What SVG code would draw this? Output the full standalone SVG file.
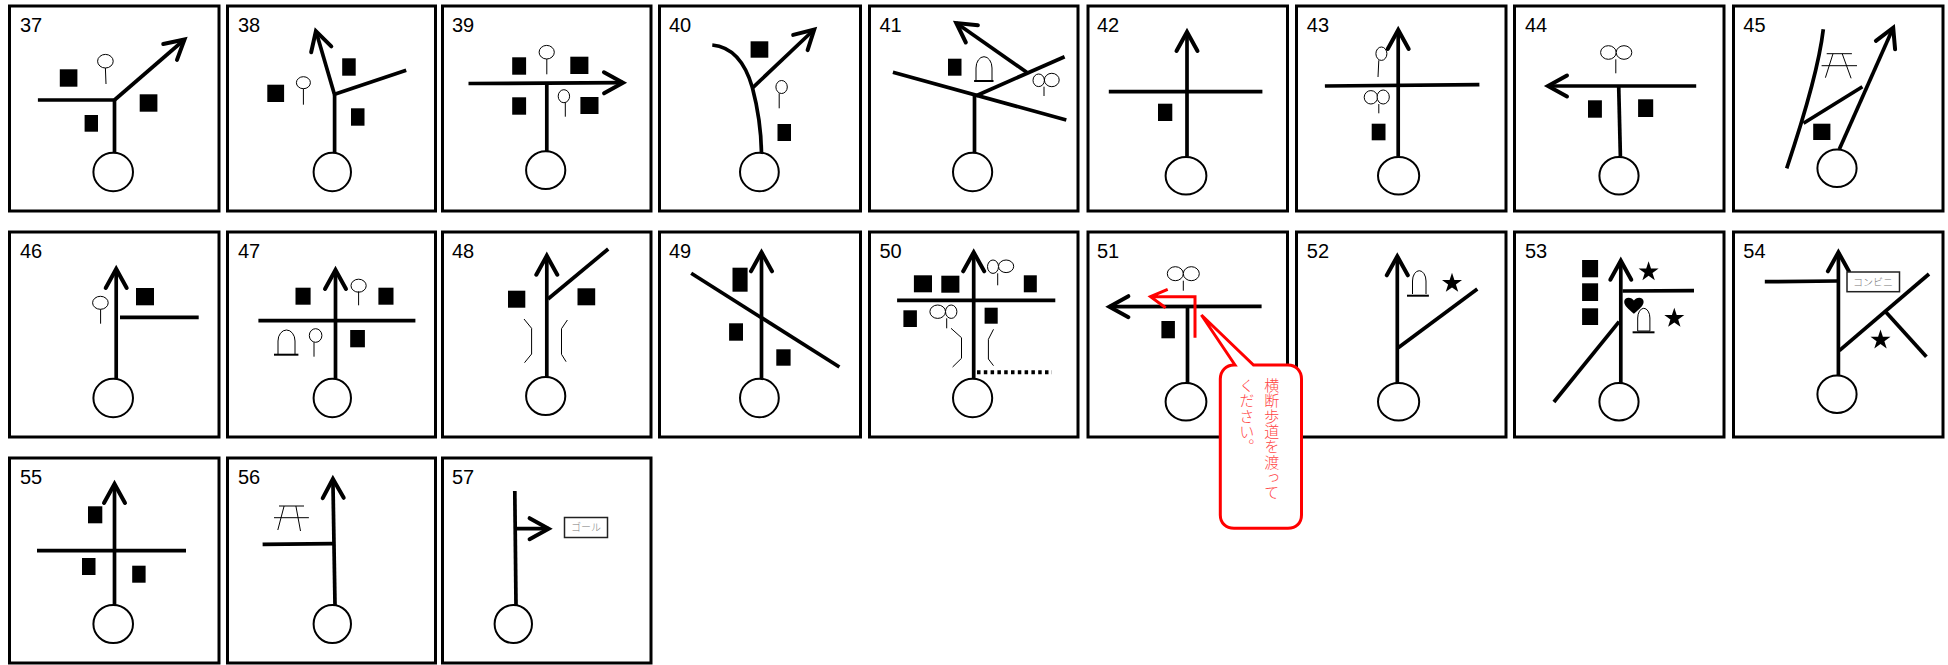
<svg xmlns="http://www.w3.org/2000/svg" xmlns:xlink="http://www.w3.org/1999/xlink" width="1948" height="665" viewBox="0 0 1948 665">
<style>
.f{fill:#fff;stroke:#000;stroke-width:3}
.n{font-family:"Liberation Sans",Arial,sans-serif;font-size:20px;fill:#000}
.r{fill:none;stroke:#000;stroke-width:3.7}
.a{marker-end:url(#ah)}
.c{fill:#fff;stroke:#000;stroke-width:2}
.t{fill:#fff;stroke:#000;stroke-width:1}
.l{fill:none;stroke:#000;stroke-width:1}
.b{fill:#000}
.k{fill:none;stroke:#000;stroke-width:2}
.g{font-family:"Noto Sans CJK JP",sans-serif;font-size:10px;font-weight:300;fill:#777;text-anchor:middle}
.s{fill:#fff;stroke:#222;stroke-width:1.5}
.v{font-family:"Noto Sans CJK JP",sans-serif;font-size:15px;font-weight:300;fill:#f44;writing-mode:vertical-rl;letter-spacing:.3px}
</style>
<defs>
<marker id="ah" markerUnits="userSpaceOnUse" markerWidth="32" markerHeight="32" viewBox="-26 -16 32 32" refX="0" refY="0" orient="auto">
<path d="M-19-10.5L0 0L-19 10.5" fill="none" stroke="#000" stroke-width="4" stroke-linecap="round"/>
</marker>
<polygon id="star" points="0,-10.5 2.4,-3.3 10,-3.3 3.9,1.3 6.2,8.5 0,4.1 -6.2,8.5 -3.9,1.3 -10,-3.3 -2.4,-3.3"/>
</defs>
<rect width="1948" height="665" fill="#fff"/>

<g id="p37">
<rect class="f" x="9.5" y="6" width="209.5" height="205"/>
<text class="n" x="20" y="32">37</text>
<path class="r" d="M37.9 100H114.5V152.7"/>
<path class="r a" d="M114.5 100L184.5 39.5"/>
<rect class="b" x="59.8" y="69.3" width="17.6" height="17.4"/>
<rect class="b" x="139.7" y="94.3" width="17.7" height="17.4"/>
<rect class="b" x="84.6" y="115" width="13.4" height="16.7"/>
<ellipse class="t" cx="105.4" cy="61.2" rx="7.8" ry="6.8"/><path class="l" d="M105.4 68L106 84"/>
<ellipse class="c" cx="113.2" cy="172" rx="19.8" ry="19.3"/>
</g>

<g id="p38">
<rect class="f" x="227.5" y="6" width="208" height="205"/>
<text class="n" x="238" y="32">38</text>
<path class="r" d="M334.6 152.7V95"/>
<path class="r a" d="M334.6 95L315.9 31.1"/>
<path class="r" d="M334.6 94.3L406.2 70.3"/>
<rect class="b" x="342.2" y="58.3" width="13.5" height="17.4"/>
<rect class="b" x="267.3" y="84.7" width="16.8" height="17.3"/>
<rect class="b" x="351" y="108.3" width="13.5" height="17.4"/>
<ellipse class="t" cx="303.4" cy="82.7" rx="7" ry="6"/><path class="l" d="M303.4 88.7V104.7"/>
<ellipse class="c" cx="332.3" cy="172" rx="18.7" ry="19.3"/>
</g>

<g id="p39">
<rect class="f" x="442.5" y="6" width="208.5" height="205"/>
<text class="n" x="452" y="32">39</text>
<path class="r" d="M546.8 83.3V151.3"/>
<path class="r a" d="M468.5 83.5L623 82.7"/>
<rect class="b" x="512.2" y="57.3" width="13.9" height="17.4"/>
<rect class="b" x="570.3" y="56.7" width="18.1" height="17.3"/>
<rect class="b" x="512.2" y="97.3" width="13.9" height="17.4"/>
<rect class="b" x="580.4" y="97" width="18.1" height="17"/>
<ellipse class="t" cx="546.7" cy="52.2" rx="7.6" ry="6.8"/><path class="l" d="M546.8 59V74.3"/>
<ellipse class="t" cx="563.9" cy="96.2" rx="5.7" ry="6.5"/><path class="l" d="M565.3 102.7V116.7"/>
<ellipse class="c" cx="545.7" cy="170.2" rx="19.6" ry="18.9"/>
</g>

<g id="p40">
<rect class="f" x="659.5" y="6" width="201" height="205"/>
<text class="n" x="669" y="32">40</text>
<path class="r" d="M761.5 152.7C761 125 757 105 752.3 87.3C745 62 733 47 712.3 45"/>
<path class="r a" d="M753.1 87.3L814.2 29.5"/>
<rect class="b" x="750.6" y="41.3" width="17.7" height="16.4"/>
<rect class="b" x="777.5" y="124" width="13.5" height="17"/>
<ellipse class="t" cx="781.6" cy="87" rx="5.7" ry="6.5"/><path class="l" d="M779.2 93.3V108.3"/>
<ellipse class="c" cx="759.4" cy="172" rx="19.4" ry="19.3"/>
</g>

<g id="p41">
<rect class="f" x="869.5" y="6" width="208.5" height="205"/>
<text class="n" x="879.4" y="32">41</text>
<path class="r" d="M974.5 152.7V95"/>
<path class="r" d="M892.9 72.3L1066.3 120"/>
<path class="r" d="M976.2 95.7L1064.6 56.7"/>
<path class="r a" d="M1026.7 72.3L956.3 23"/>
<rect class="b" x="948" y="58.7" width="13.5" height="17"/>
<path class="l" d="M976 81V68A8 11.3 0 0 1 992 68V81"/><path class="k" d="M974.1 81H993.5"/>
<ellipse class="t" cx="1038.7" cy="80.3" rx="5.7" ry="6.3"/><ellipse class="t" cx="1051.8" cy="80" rx="7.4" ry="6.7"/><path class="l" d="M1044 86.7V96"/>
<ellipse class="c" cx="972.6" cy="172" rx="19.6" ry="19.3"/>
</g>

<g id="p42">
<rect class="f" x="1088" y="6" width="199.5" height="205"/>
<text class="n" x="1097" y="32">42</text>
<path class="r" d="M1108.8 91.7H1262.4"/>
<path class="r a" d="M1187 156.7V32"/>
<rect class="b" x="1158" y="103.7" width="14.3" height="17.3"/>
<ellipse class="c" cx="1186" cy="175.8" rx="20.4" ry="18.8"/>
</g>

<g id="p43">
<rect class="f" x="1296.5" y="6" width="209.5" height="205"/>
<text class="n" x="1306.8" y="32">43</text>
<path class="r" d="M1324.9 86L1479.4 84.7"/>
<path class="r a" d="M1398.2 156.7V30"/>
<ellipse class="t" cx="1381.4" cy="53.7" rx="5.5" ry="6.7"/><path class="l" d="M1378.8 60.3L1378 77"/>
<ellipse class="t" cx="1370.9" cy="97.3" rx="6.7" ry="6.7"/><ellipse class="t" cx="1383.2" cy="97" rx="6.1" ry="7"/><path class="l" d="M1378.8 104V113.3"/>
<rect class="b" x="1371.7" y="123.7" width="13.8" height="16.6"/>
<ellipse class="c" cx="1398.6" cy="175.8" rx="20.6" ry="18.8"/>
</g>

<g id="p44">
<rect class="f" x="1514.5" y="6" width="209.5" height="205"/>
<text class="n" x="1524.9" y="32">44</text>
<path class="r" d="M1618.7 86L1620.4 156.7"/>
<path class="r a" d="M1696.2 86H1548"/>
<rect class="b" x="1588" y="100.3" width="13.9" height="17.4"/>
<rect class="b" x="1638.1" y="99.3" width="15.1" height="17.7"/>
<ellipse class="t" cx="1608.4" cy="52.5" rx="7.8" ry="6.8"/><ellipse class="t" cx="1624" cy="52.5" rx="7.8" ry="6.8"/><path class="l" d="M1615.8 59.3V73.3"/>
<ellipse class="c" cx="1619" cy="175.8" rx="19.6" ry="18.8"/>
</g>

<g id="p45">
<rect class="f" x="1733.5" y="6" width="209.5" height="205"/>
<text class="n" x="1743.3" y="32">45</text>
<path class="r" d="M1786.7 168.3Q1818 75 1823.3 29.3"/>
<path class="r" d="M1803.5 123.3L1862.4 86.7"/>
<path class="r a" d="M1839.3 149.3L1893.2 27.7"/>
<rect class="b" x="1813.2" y="123.7" width="17.2" height="16.3"/>
<path class="l" d="M1826.7 53.7H1851.9M1821.6 65.7H1857M1833 53.7L1825.4 77.7M1842.2 53.7L1851.1 78.3"/>
<ellipse class="c" cx="1837" cy="168.2" rx="19.6" ry="18.8"/>
</g>

<g id="p46">
<rect class="f" x="9.5" y="232" width="209.5" height="205"/>
<text class="n" x="20" y="258.3">46</text>
<path class="r a" d="M116.2 378.7V269"/>
<path class="r" d="M120 317.3H198.7"/>
<rect class="b" x="136" y="288" width="18" height="17.3"/>
<ellipse class="t" cx="100.4" cy="302.8" rx="7.8" ry="6.5"/><path class="l" d="M100.6 309.3V323.7"/>
<ellipse class="c" cx="113.2" cy="398" rx="19.8" ry="19.3"/>
</g>

<g id="p47">
<rect class="f" x="227.5" y="232" width="208" height="205"/>
<text class="n" x="238" y="258.3">47</text>
<path class="r" d="M258.4 320.7H415.4"/>
<path class="r a" d="M335.5 378.7V270"/>
<rect class="b" x="295.5" y="287.7" width="15.1" height="17"/>
<rect class="b" x="378.4" y="287.7" width="15.1" height="17"/>
<rect class="b" x="350.2" y="330" width="14.7" height="17.3"/>
<ellipse class="t" cx="358.6" cy="285.7" rx="7.6" ry="6.5"/><path class="l" d="M358.6 291.3V305.3"/>
<ellipse class="t" cx="315.6" cy="335.5" rx="6.3" ry="6.8"/><path class="l" d="M314 342.3V356.7"/>
<path class="l" d="M278 354V341A8.5 11 0 0 1 295 341V354"/><path class="k" d="M274 354.7H298.4"/>
<ellipse class="c" cx="332.3" cy="398" rx="18.7" ry="19.3"/>
</g>

<g id="p48">
<rect class="f" x="442.5" y="232" width="208.5" height="205"/>
<text class="n" x="452" y="258.3">48</text>
<path class="r a" d="M546.8 377V255.7"/>
<path class="r" d="M548 299L608.2 249"/>
<rect class="b" x="508" y="290.7" width="17.3" height="17"/>
<rect class="b" x="577.5" y="288.3" width="17.7" height="17"/>
<path class="l" d="M524 319L531.6 328.3V354L524.5 362.7M567.4 320L561.5 328.7V354.3L566.1 361.7"/>
<ellipse class="c" cx="545.7" cy="396" rx="19.6" ry="19"/>
</g>

<g id="p49">
<rect class="f" x="659.5" y="232" width="201" height="205"/>
<text class="n" x="669" y="258.3">49</text>
<path class="r a" d="M761.5 378.7V252.3"/>
<path class="r" d="M691.2 273.3L839.4 367"/>
<rect class="b" x="732.5" y="267.7" width="15.1" height="24"/>
<rect class="b" x="729.1" y="323.3" width="13.9" height="17.4"/>
<rect class="b" x="776.3" y="349.3" width="14.3" height="16.4"/>
<ellipse class="c" cx="759.4" cy="398" rx="19.4" ry="19.3"/>
</g>

<g id="p50">
<rect class="f" x="869.5" y="232" width="208.5" height="205"/>
<text class="n" x="879.4" y="258.3">50</text>
<path class="r" d="M897.1 300.3H1055.3"/>
<path class="r a" d="M973.7 378.7V252.3"/>
<path d="M977 372.3H1052" fill="none" stroke="#000" stroke-width="4" stroke-dasharray="3.5 3.3"/>
<rect class="b" x="913.9" y="275.3" width="18.1" height="17"/>
<rect class="b" x="941.3" y="275.7" width="18.1" height="17"/>
<rect class="b" x="1023.8" y="275.3" width="13" height="17"/>
<rect class="b" x="903.4" y="310.3" width="13.5" height="16.7"/>
<rect class="b" x="984.6" y="307.7" width="13.1" height="16"/>
<ellipse class="t" cx="993" cy="266.7" rx="5.5" ry="6.7"/><ellipse class="t" cx="1006.1" cy="266.3" rx="7.6" ry="6.3"/><path class="l" d="M997.7 273.3V285.3"/>
<ellipse class="t" cx="937.7" cy="311.7" rx="7.8" ry="6.7"/><ellipse class="t" cx="951.2" cy="311.7" rx="5.7" ry="6.7"/><path class="l" d="M946.7 318.3V328.3"/>
<path class="l" d="M951 328.3L961.5 337.7V358.3L952.6 367M993.5 329.3L988.4 339.3V359L993.5 365.7"/>
<ellipse class="c" cx="972.6" cy="398" rx="19.6" ry="19.3"/>
</g>

<g id="p51">
<rect class="f" x="1088" y="232" width="199.5" height="205"/>
<text class="n" x="1097" y="258.3">51</text>
<path class="r" d="M1187.5 306V383"/>
<path class="r a" d="M1261.6 306.3L1109.4 306.7"/>
<rect class="b" x="1161.4" y="321" width="13.5" height="17.3"/>
<ellipse class="t" cx="1175.3" cy="273.7" rx="8" ry="7"/><ellipse class="t" cx="1191.3" cy="273.7" rx="8" ry="7"/><path class="l" d="M1183.3 280.7V290.7"/>
<ellipse class="c" cx="1186" cy="401.7" rx="20.4" ry="18.7"/>
</g>

<g id="p52">
<rect class="f" x="1296.5" y="232" width="209.5" height="205"/>
<text class="n" x="1306.8" y="258.3">52</text>
<path class="r a" d="M1397.3 383V256.3"/>
<path class="r" d="M1398.2 347.7L1477.3 289"/>
<path class="l" d="M1412.5 294V281A6.75 10.3 0 0 1 1426 281V294"/><path class="k" d="M1407 295.7H1428.9"/>
<use xlink:href="#star" href="#star" x="1452" y="283.3"/>
<ellipse class="c" cx="1398.6" cy="401.7" rx="20.6" ry="18.7"/>
</g>

<g id="p53">
<rect class="f" x="1514.5" y="232" width="209.5" height="205"/>
<text class="n" x="1524.9" y="258.3">53</text>
<path class="r a" d="M1620.8 383V260.7"/>
<path class="r" d="M1622.5 291L1694 290.7"/>
<path class="r" d="M1619.1 321.7L1553.9 402"/>
<rect class="b" x="1582.1" y="260" width="16" height="17.3"/>
<rect class="b" x="1582.1" y="283.3" width="16" height="17.7"/>
<rect class="b" x="1582.1" y="308.3" width="16" height="16.7"/>
<use xlink:href="#star" href="#star" x="1648.6" y="271.7"/>
<use xlink:href="#star" href="#star" x="1674.3" y="318.3"/>
<path class="b" d="M1633.9 313.7C1628 309 1624.2 305.5 1624.2 301.8C1624.2 298.9 1626.3 297.7 1628.6 297.7C1630.8 297.7 1632.8 298.8 1633.9 300.6C1635 298.8 1637 297.7 1639.2 297.7C1641.5 297.7 1643.6 298.9 1643.6 301.8C1643.6 305.5 1639.8 309 1633.9 313.7Z"/>
<path class="t" d="M1637.7 331V318A6.1 9.7 0 0 1 1649.9 318V331Z"/><path class="k" d="M1632.6 332.3H1654.5"/>
<ellipse class="c" cx="1619" cy="401.7" rx="19.6" ry="18.7"/>
</g>

<g id="p54">
<rect class="f" x="1733.5" y="232" width="209.5" height="205"/>
<text class="n" x="1743.3" y="258.3">54</text>
<path class="r a" d="M1838.4 375.7V252.3"/>
<path class="r" d="M1764.8 281.7L1837.2 281"/>
<path class="r" d="M1839.3 350.7L1929 274"/>
<path class="r" d="M1885.6 311.7L1926.4 356.7"/>
<use xlink:href="#star" href="#star" x="1880.5" y="340"/>
<rect class="s" x="1847" y="272" width="52.5" height="19.7"/>
<text class="g" x="1873" y="285.5">コンビニ</text>
<ellipse class="c" cx="1837" cy="394.3" rx="19.6" ry="18.7"/>
</g>

<g id="p55">
<rect class="f" x="9.5" y="458" width="209.5" height="205"/>
<text class="n" x="20" y="484.3">55</text>
<path class="r" d="M37 550.7H186"/>
<path class="r a" d="M114.5 605V484"/>
<rect class="b" x="88" y="506.3" width="14.3" height="17"/>
<rect class="b" x="82" y="558" width="13.5" height="17"/>
<rect class="b" x="132.2" y="565.7" width="13.4" height="17"/>
<ellipse class="c" cx="113.2" cy="624" rx="19.8" ry="19"/>
</g>

<g id="p56">
<rect class="f" x="227.5" y="458" width="208" height="205"/>
<text class="n" x="238" y="484.3">56</text>
<path class="r a" d="M335 605L332.9 479"/>
<path class="r" d="M262.6 544.3L333.4 543.7"/>
<path class="l" d="M279 506H304M274 517.7H308.9M284.1 506L277.8 530M295.9 506L300.5 531"/>
<ellipse class="c" cx="332.3" cy="624" rx="18.7" ry="19"/>
</g>

<g id="p57">
<rect class="f" x="442.5" y="458" width="208.5" height="205"/>
<text class="n" x="452" y="484.3">57</text>
<path class="r" d="M514.8 491L516 605"/>
<path class="r a" d="M516.9 528.7H548.6"/>
<rect class="s" x="564.5" y="517.5" width="43" height="20"/>
<text class="g" x="586" y="531">ゴール</text>
<ellipse class="c" cx="513.3" cy="624" rx="18.7" ry="19"/>
</g>

<g id="callout">
<path d="M1195 337.7V296.7H1150.5M1167.7 289.3L1150.5 296.7L1165.6 307.7" fill="none" stroke="#f00" stroke-width="3"/>
<path d="M1235 365L1201.4 315L1253.5 365H1288C1296 365 1301.5 371 1301.5 379V515C1301.5 523 1296 528.3 1288 528.3H1234C1226 528.3 1220.3 523 1220.3 515V379C1220.3 371 1226 365 1234 365Z" fill="#fff" stroke="#f00" stroke-width="3"/>
<text class="v" x="1271.7" y="378">横断歩道を渡って</text>
<text class="v" x="1246.7" y="378">ください。</text>
</g>
</svg>
